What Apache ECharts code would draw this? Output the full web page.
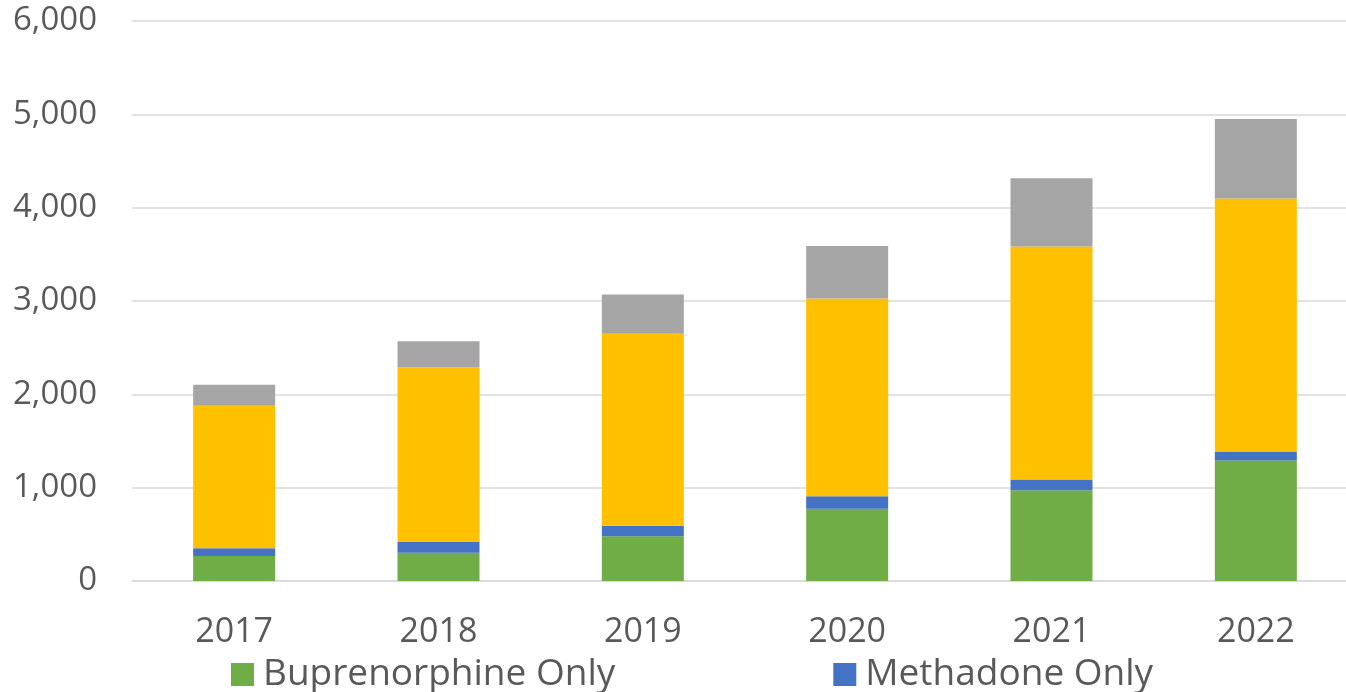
<!DOCTYPE html>
<html>
<head>
<meta charset="utf-8">
<title>Stacked bars 2017-2022</title>
<script src="https://cdn.jsdelivr.net/npm/echarts@6/dist/echarts.min.js"></script>
<style>
  html, body { margin: 0; padding: 0; background: #fff; overflow: hidden; }
  /* a bit wider than the window: the original is cropped on the right */
  #chart { width: 1358px; height: 692px; }
</style>
</head>
<body>
<div id="chart"></div>
<script>
  // data
  const years = ['2017', '2018', '2019', '2020', '2021', '2022'];
  const buprenorphineOnly = [268, 304, 479, 773, 973, 1292];
  const methadoneOnly = [82, 114, 114, 135, 115, 96];
  const thirdGroup = [1528, 1872, 2057, 2118, 2497, 2709];
  const fourthGroup = [225, 278, 419, 564, 729, 853];
  const yTicks = [0, 1000, 2000, 3000, 4000, 5000, 6000];

  const font = 'Open Sans';
  const chart = echarts.init(document.getElementById('chart'));

  function bar(name, data, color) {
    return {
      name: name,
      type: 'bar',
      stack: 'total',
      barWidth: 82,
      data: data,
      itemStyle: { color: color },
      emphasis: { disabled: true }
    };
  }

  chart.setOption({
    animation: false,
    textStyle: { fontFamily: font },
    grid: { left: 132, right: 0, top: 21, bottom: 111 },
    legend: {
      data: ['Buprenorphine Only', 'Methadone Only'],
      left: 231,
      top: 656,
      padding: 0,
      itemWidth: 23,
      itemHeight: 23,
      itemGap: 218,
      icon: 'rect',
      textStyle: { fontFamily: font, fontSize: 37, color: '#595959', padding: [0, 0, 0, 4] }
    },
    xAxis: {
      type: 'category',
      data: years,
      axisLine: { lineStyle: { color: '#D9D9D9', width: 1.5 } },
      axisTick: { show: false },
      axisLabel: { fontSize: 34, color: '#595959', margin: 34, fontFamily: font }
    },
    yAxis: {
      type: 'value',
      min: yTicks[0],
      max: yTicks[yTicks.length - 1],
      interval: 1000,
      axisLine: { show: false },
      axisTick: { show: false },
      splitLine: { lineStyle: { color: '#D9D9D9', width: 1.5 } },
      axisLabel: {
        fontSize: 33,
        color: '#595959',
        margin: 35,
        fontFamily: font,
        formatter: v => v.toLocaleString('en-US')
      }
    },
    series: [
      bar('Buprenorphine Only', buprenorphineOnly, '#70AD47'),
      bar('Methadone Only', methadoneOnly, '#4472C4'),
      bar('Group 3', thirdGroup, '#FFC000'),
      bar('Group 4', fourthGroup, '#A5A5A5')
    ]
  });
</script>
</body>
</html>
